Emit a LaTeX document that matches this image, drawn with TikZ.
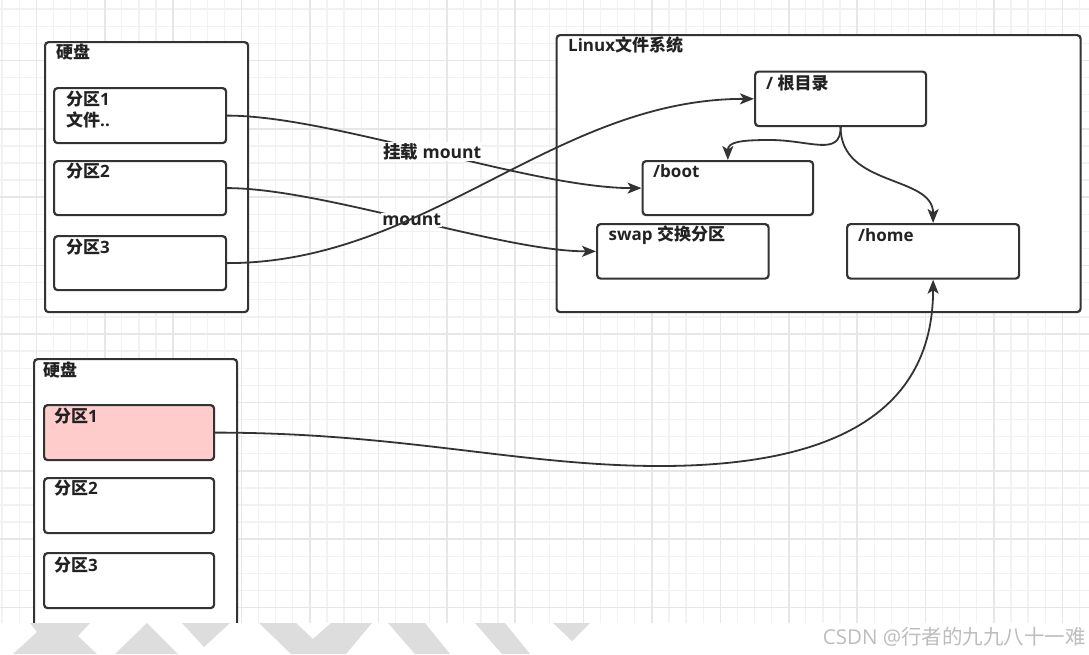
\documentclass[tikz,border=0pt]{standalone}
\usepackage{fontspec}
\setmainfont{Open Sans}
\newfontfamily\cjk{Noto Sans CJK SC}
\usetikzlibrary{arrows.meta}
\definecolor{ink}{HTML}{333333}
\definecolor{txt}{HTML}{222222}
\definecolor{gridminor}{HTML}{F2F2F2}
\definecolor{gridmajor}{HTML}{E7E7E7}
\definecolor{pinkfill}{HTML}{FFCCCC}
\definecolor{wm}{HTML}{DDDDDD}
\definecolor{wmtext}{HTML}{BDBDBD}
\begin{document}
\begin{tikzpicture}[x=1pt,y=-1pt,
  box/.style={draw=ink, line width=2.2pt, rounded corners=3.5pt, fill=white, inner sep=0pt, anchor=north west},
  ttl/.style={anchor=west, font=\fontsize{17}{20}\selectfont\bfseries, text=txt, inner sep=0pt},
  conn/.style={draw=ink, line width=1.8pt, -{Stealth[length=14pt,width=11pt,inset=3.5pt]}},
  elabel/.style={fill=white, font=\fontsize{17.5}{20}\selectfont\bfseries, text=txt, inner sep=1pt}
]
\useasboundingbox (0,0) rectangle (1089,654);
\fill[white] (0,0) rectangle (1089,654);
% grid
\begin{scope}
\clip (0,0) rectangle (1089,623);
\foreach \i in {0,...,63} {\draw[gridminor, line width=1.3pt] ({2.1+17.1*\i},0) -- ++(0,623);}
\foreach \j in {0,...,36} {\draw[gridminor, line width=1.3pt] (0,{9.1+17.1*\j}) -- ++(1089,0);}
\foreach \i in {0,...,15} {\draw[gridmajor, line width=1.6pt] ({36.3+68.4*\i},0) -- ++(0,623);}
\foreach \j in {0,...,9} {\draw[gridmajor, line width=1.6pt] (0,{-8+68.4*\j}) -- ++(1089,0);}
\end{scope}

% top disk
\node[box, minimum width=203pt, minimum height=270pt] (hd1) at (44,41) {};
\node[ttl] (hd1t) at (56,52) {\cjk 硬盘};
\node[box, minimum width=172pt, minimum height=55pt] (p1) at (53,87) {};
\node[ttl] (p1t) at (66,99.5) {{\cjk 分区}1};
\node[ttl] (p1f) at (66,120) {{\cjk 文件}..};
\node[box, minimum width=172pt, minimum height=54pt] (p2) at (53,160) {};
\node[ttl] (p2t) at (66,171.5) {{\cjk 分区}2};
\node[box, minimum width=172pt, minimum height=54pt] (p3) at (53,235) {};
\node[ttl] (p3t) at (66,247.5) {{\cjk 分区}3};

% Linux file system
\node[box, minimum width=524pt, minimum height=277pt] (fs) at (555.5,34) {};
\node[ttl] (fst) at (568,45) {Linux{\cjk 文件系统}};
\node[box, minimum width=171pt, minimum height=54.5pt] (root) at (754,70.5) {};
\node[ttl] (roott) at (766,83) {/ {\cjk 根目录}};
\node[box, minimum width=170.5pt, minimum height=54pt] (boot) at (641.5,160) {};
\node[ttl] (boott) at (653,171) {/boot};
\node[box, minimum width=171.5pt, minimum height=54.5pt] (swap) at (596,223) {};
\node[ttl] (swapt) at (608.5,235) {swap {\cjk 交换分区}};
\node[box, minimum width=172pt, minimum height=54.5pt] (home) at (846,223) {};
\node[ttl] (homet) at (858,235) {/home};

% bottom disk
\node[box, minimum width=203pt, minimum height=290pt] (hd2) at (33,358) {};
\node[ttl] (hd2t) at (43,370) {\cjk 硬盘};
\node[box, fill=pinkfill, minimum width=170pt, minimum height=55pt] (bp1) at (43,404) {};
\node[ttl] (bp1t) at (54,416.5) {{\cjk 分区}1};
\node[box, minimum width=170pt, minimum height=55pt] (bp2) at (43,477) {};
\node[ttl] (bp2t) at (54,488.5) {{\cjk 分区}2};
\node[box, minimum width=170pt, minimum height=55pt] (bp3) at (43,552) {};
\node[ttl] (bp3t) at (54,565) {{\cjk 分区}3};

% connectors
\draw[conn] (p1.east) .. controls +(105,0) and +(-111,0) .. node[elabel] (lb1) {{\cjk 挂载} mount} (boot.west);
\draw[conn] (p2.east) .. controls +(95,0) and +(-95,0) .. node[elabel] (lb2) {mount} (swap.west);
\draw[conn] (p3.east) .. controls +(200,0) and +(-200,0) .. (root.west);
\draw[conn] (root.south) .. controls +(0,30) and +(40,0) .. (770,140) .. controls +(-30,0) and +(0,-18) .. (boot.north);
\draw[conn] (root.south) .. controls +(0,60) and +(0,-48) .. (home.north);
\draw[conn] (bp1.east) .. controls +(187,0) and (520,466) .. (660,466) .. controls (850,466) and +(0,122) .. (home.south);

% bottom watermark band
\fill[white] (0,623) rectangle (1089,654);
\fill[wm] (30,623) -- (90,623) -- (78,636) -- (97,654) -- (13,654) -- (37,632) -- cycle;
\fill[wm] (147,623) -- (178,654) -- (115,654) -- cycle;
\fill[wm] (182,623) -- (230,623) -- (204,647) -- cycle;
\fill[wm] (259,623) -- (296,623) -- (313,639) -- (331,623) -- (372,623) -- (346,654) -- (291,654) -- cycle;
\fill[wm] (388,623) -- (425,623) -- (450,654) -- (415,654) -- cycle;
\fill[wm] (475,623) -- (505,623) -- (530,654) -- (502,654) -- cycle;
\fill[wm] (553,623) -- (590,623) -- (572,641) -- cycle;
\node[anchor=east, inner sep=0pt, font=\fontsize{20.5}{24}\selectfont, text=wmtext] (wmark) at (1086,637) {CSDN @{\cjk 行者的九九八十一难}};
\end{tikzpicture}
\end{document}
